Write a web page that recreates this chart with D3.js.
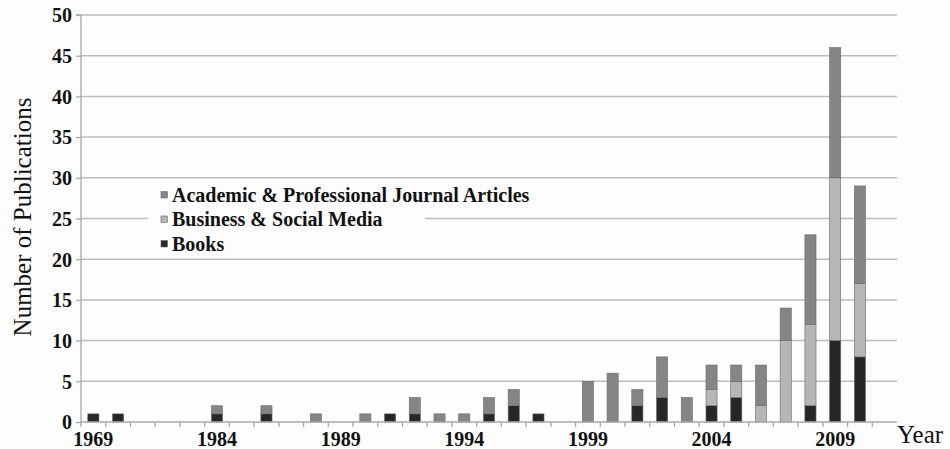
<!DOCTYPE html>
<html><head><meta charset="utf-8">
<script src="https://cdn.jsdelivr.net/npm/d3@7"></script>
<style>body{margin:0;background:#fff}svg{display:block}</style>
</head><body><svg id="c" width="950" height="449"></svg>
<script>
const years = ["1969","1971","1975","1979","1982","1984","1985","1986","1987","1988","1989","1990","1991","1992","1993","1994","1995","1996","1997","1998","1999","2000","2001","2002","2003","2004","2005","2006","2007","2008","2009","2010","2011"];
const shownLabels = ["1969","1984","1989","1994","1999","2004","2009"];
const books    = [1,1,0,0,0,1,0,1,0,0,0,0,1,1,0,0,1,2,1,0,0,0,2,3,0,2,3,0,0,2,10,8,0];
const business = [0,0,0,0,0,0,0,0,0,0,0,0,0,0,0,0,0,0,0,0,0,0,0,0,0,2,2,2,10,10,20,9,0];
const academic = [0,0,0,0,0,1,0,1,0,1,0,1,0,2,1,1,2,2,0,0,5,6,2,5,3,3,2,5,4,11,16,12,0];
const yTicks = [0,5,10,15,20,25,30,35,40,45,50];
const seriesNames = ["Books","Business & Social Media","Academic & Professional Journal Articles"];
const colors = {"Books":"#272727","Business & Social Media":"#b6b6b6","Academic & Professional Journal Articles":"#858585"};

const svg = d3.select("#c");
const L=81, R=897, T=15, B=422;
const x = d3.scaleBand().domain(years).range([L,R]).paddingInner(0.55).paddingOuter(0.275);
const y = d3.scaleLinear().domain([0,50]).range([B,T]);
const serif = "'Liberation Serif','DejaVu Serif',serif";

svg.append("rect").attr("width",950).attr("height",449).attr("fill","#fdfdfd");

// gridlines
svg.append("g").selectAll("line").data(yTicks.filter(d=>d>0)).join("line")
  .attr("x1",L).attr("x2",R).attr("y1",d=>y(d)).attr("y2",d=>y(d))
  .attr("stroke","#bdbdbd").attr("stroke-width",1.5);

// stacked data
const table = years.map((yr,i)=>({year:yr,"Books":books[i],"Business & Social Media":business[i],"Academic & Professional Journal Articles":academic[i]}));
const stack = d3.stack().keys(seriesNames)(table);
svg.append("g").selectAll("g").data(stack).join("g")
  .attr("fill",d=>colors[d.key])
  .selectAll("rect").data(d=>d.filter(s=>s[1]-s[0]>0)).join("rect")
  .attr("x",d=>x(d.data.year)).attr("width",x.bandwidth())
  .attr("y",d=>y(d[1])).attr("height",d=>y(d[0])-y(d[1]))
  .attr("stroke","#6a6a6a").attr("stroke-width",0.6);

// y axis
const yAxis = d3.axisLeft(y).tickValues(yTicks).tickSize(5).tickPadding(4);
const gy = svg.append("g").attr("transform",`translate(${L},0)`).call(yAxis);
gy.select(".domain").attr("stroke","#a8a8a8").attr("stroke-width",1.3).attr("d",`M-5,${T}H0V${B}`);
gy.selectAll(".tick line").attr("stroke","#a8a8a8").attr("stroke-width",1.3);
gy.selectAll("text").attr("font-family",serif).attr("font-weight","bold").attr("font-size",20).attr("fill","#111").attr("dy","0.34em");

// x axis
const gx = svg.append("g").attr("transform",`translate(0,${B})`);
gx.append("line").attr("x1",L).attr("x2",R).attr("stroke","#a8a8a8").attr("stroke-width",1.5);
gx.selectAll(".tk").data(years).join("line").attr("class","tk")
  .attr("x1",d=>x(d)-x.step()*x.paddingInner()/2).attr("x2",d=>x(d)-x.step()*x.paddingInner()/2)
  .attr("y1",0).attr("y2",5).attr("stroke","#a8a8a8").attr("stroke-width",1.3);
gx.selectAll(".lb").data(shownLabels).join("text").attr("class","lb")
  .attr("x",d=>x(d)+x.bandwidth()/2).attr("y",24).attr("text-anchor","middle")
  .attr("font-family",serif).attr("font-weight","bold").attr("font-size",20).attr("fill","#111").text(d=>d);

// axis titles
svg.append("text").attr("transform","translate(31,217) rotate(-90)").attr("text-anchor","middle")
  .attr("font-family",serif).attr("font-size",25).attr("fill","#111").text("Number of Publications");
svg.append("text").attr("x",897).attr("y",443).attr("font-family",serif).attr("font-size",25).attr("fill","#111").text("Year");

// legend
const lg = svg.append("g");
lg.append("rect").attr("x",148).attr("y",181).attr("width",277).attr("height",75).attr("fill","#fdfdfd");
const legendOrder = ["Academic & Professional Journal Articles","Business & Social Media","Books"];
legendOrder.forEach((k,i)=>{
  const yy = 195 + i*24.5;
  lg.append("rect").attr("x",161).attr("y",yy-3.5).attr("width",6.5).attr("height",6.5).attr("fill",colors[k]).attr("stroke","#6a6a6a").attr("stroke-width",0.6);
  lg.append("text").attr("x",172).attr("y",yy+6.5).attr("font-family",serif).attr("font-weight","bold").attr("font-size",20).attr("fill","#111").text(k);
});
</script></body></html>
